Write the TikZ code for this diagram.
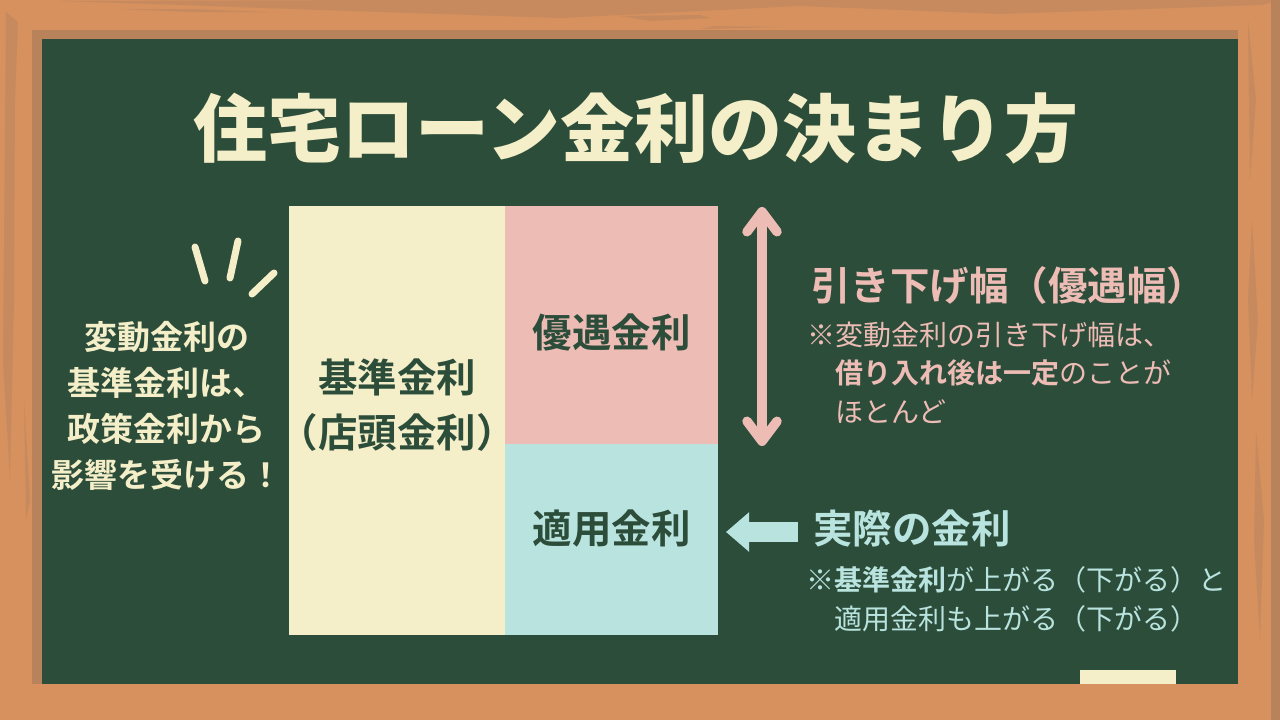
\documentclass[tikz,border=0pt]{standalone}
\usepackage{fontspec}
\setmainfont{Noto Sans CJK JP}[BoldFont={Noto Sans CJK JP Black}]
\newfontfamily\jplight{Noto Sans CJK JP}
\newfontfamily\jpbold{Noto Sans CJK JP Bold}
\usetikzlibrary{arrows.meta,positioning}
\definecolor{boardgreen}{HTML}{2D4D3B}
\definecolor{woodbase}{HTML}{D6915F}
\definecolor{woodgrain}{HTML}{C68A5E}
\definecolor{woodshade}{HTML}{B8835A}
\definecolor{chalkcream}{HTML}{F4EFC8}
\definecolor{chalkpink}{HTML}{EDBCB5}
\definecolor{chalkteal}{HTML}{B9E3DE}
\tikzset{
  ratebox/.style={inner sep=0pt,outer sep=0pt},
  ratelabel/.style={inner sep=0pt,text=boardgreen,font=\jpbold\fontsize{39.5}{55}\selectfont,align=center},
  heading/.style={inner sep=0pt,anchor=west,font=\jpbold\fontsize{39.5}{44}\selectfont},
  note/.style={inner sep=0pt,anchor=north west,align=left,font=\jplight\fontsize{28}{38.7}\selectfont},
}
\begin{document}
\begin{tikzpicture}[x=1pt,y=-1pt]
\useasboundingbox (0,0) rectangle (1280,720);
% frame
\fill[woodbase] (0,0) rectangle (1280,720);
\fill[woodgrain] (60,1) -- (400,0) -- (1280,0) -- (1262,5) -- (1000,14) -- (800,6) -- (560,18) -- (440,14) -- (320,10) -- (180,5) -- cycle;
\fill[woodgrain] (620,16) -- (700,15) -- (710,18) -- (650,21) -- cycle;
\fill[woodgrain] (715,26) -- (780,27) -- (700,29) -- cycle;
\fill[woodgrain] (120,9) -- (190,12) -- (270,12) -- (190,9) -- cycle;
\fill[woodgrain] (6,12) -- (18,22) -- (15,100) -- (14,300) -- (10,480) -- (3,360) -- cycle;
\fill[woodgrain] (24,400) -- (30,500) -- (26,520) -- cycle;
\fill[woodgrain] (1248,20) -- (1256,100) -- (1250,180) -- cycle;
\fill[woodgrain] (1252,220) -- (1258,320) -- (1252,400) -- (1248,300) -- cycle;
\fill[woodgrain] (1256,430) -- (1264,520) -- (1260,640) -- (1254,540) -- cycle;
\fill[woodshade] (1271,0) rectangle (1280,720);
\fill[woodshade] (32,30) rectangle (1238,684);
\fill[boardgreen] (42,39) rectangle (1238,684);
\fill[chalkcream] (1080,670) rectangle (1176,684);
% title
\node[inner sep=0pt,text=chalkcream,font=\bfseries\fontsize{74}{80}\selectfont] (title) at (636,128) {住宅ローン金利の決まり方};
% rate boxes
\node[ratebox,fill=chalkcream,minimum width=216pt,minimum height=429pt] (kijun) at (397,420.5) {};
\node[ratebox,fill=chalkpink,minimum width=213pt,minimum height=238pt,anchor=north west] (yugu) at (kijun.north east) {};
\node[ratebox,fill=chalkteal,minimum width=213pt,minimum height=191pt,anchor=north west] (tekiyo) at (yugu.south west) {};
\node[ratelabel] (kijunlabel) at ([yshift=15pt]kijun.center) {基準金利\\（店頭金利）};
\node[ratelabel] (yugulabel) at ([yshift=-7pt]yugu.center) {優遇金利};
\node[ratelabel] (tekiyolabel) at ([yshift=11pt]tekiyo.center) {適用金利};
% left remark
\node[inner sep=0pt,align=center,text=chalkcream,font=\jpbold\fontsize{33}{46}\selectfont] (remark) at (167,406) {変動金利の\\基準金利は、\\政策金利から\\影響を受ける！};
\foreach \xa/\ya/\xb/\yb in {195/247/205/281,238/241/230/278,274/273/252/294}
  \draw[chalkcream,line width=7pt,line cap=round] (\xa,\ya) -- (\xb,\yb);
% right side, discount
\coordinate (widthtop) at (762,207);
\coordinate (widthbot) at (762,446);
\draw[chalkpink,line width=9.5pt,{Straight Barb[round,length=20pt,width=30pt]}-{Straight Barb[round,length=20pt,width=30pt]}] (widthtop) -- (widthbot);
\node[heading,text=chalkpink] (widthhead) at (811,285) {引き下げ幅（優遇幅）};
\node[note,text=chalkpink] (widthnote) at (807,321.5) {※変動金利の引き下げ幅は、\\\hspace*{1em}{\jpbold 借り入れ後は一定}のことが\\\hspace*{1em}ほとんど};
% right side, actual rate
\node[heading,text=chalkteal] (realhead) at (813,528) {実際の金利};
\coordinate (realstart) at (798,532);
\draw[chalkteal,line width=20pt,-{Triangle[length=23pt,width=38pt]},shorten >=8pt] (realstart) -- (tekiyo.east |- realstart);
\node[note,text=chalkteal] (realnote) at (806,566.5) {※{\jpbold 基準金利}が上がる（下がる）と\\\hspace*{1em}適用金利も上がる（下がる）};
\end{tikzpicture}
\end{document}
